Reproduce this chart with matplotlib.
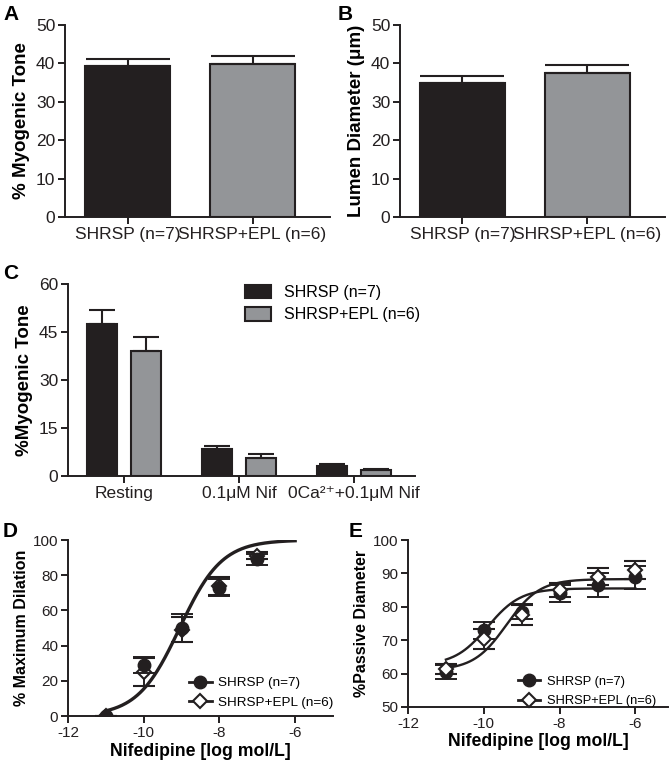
import numpy as np
import matplotlib
matplotlib.use("Agg")
import matplotlib.pyplot as plt
from matplotlib.patches import Patch
from matplotlib.lines import Line2D

plt.rcParams['font.family'] = ['Liberation Sans', 'DejaVu Sans']
plt.rcParams['axes.unicode_minus'] = False

# ---- data ----
groups = ['SHRSP (n=7)', 'SHRSP+EPL (n=6)']
tone_a = [39.3, 39.9]
tone_a_err = [1.8, 2.1]
diam_b = [34.9, 37.6]
diam_b_err = [1.7, 2.0]

c_conditions = ['Resting', '0.1\u03bcM Nif', '0Ca\u00b2\u207a+0.1\u03bcM Nif']
c_shrsp = [47.5, 8.4, 3.1]
c_shrsp_err = [4.4, 1.1, 0.6]
c_epl = [39.2, 5.7, 1.9]
c_epl_err = [4.3, 1.3, 0.3]

d_log = [-11, -10, -9, -8, -7]
d_shrsp = [0, 29, 50, 73, 89]
d_shrsp_err = [0, 4.5, 8, 5, 3]
d_epl = [0, 25, 49, 74, 91]
d_epl_err = [0, 8, 7, 5, 2]
# fitted Hill curve (bottom, top, logEC50, slope)
d_fit = [0, 100, -9.05, 0.78]

e_log = [-11, -10, -9, -8, -7, -6]
e_shrsp = [60.5, 73, 78.5, 84, 86.5, 88.8]
e_shrsp_err = [2, 2.5, 2.2, 2.5, 3.5, 3.5]
e_epl = [61.5, 70.5, 77.5, 85, 89, 91]
e_epl_err = [1.5, 3, 3, 2, 2.5, 2.7]
e_fit_shrsp = [62.5, 85.5, -9.9, 1.0]
e_fit_epl = [61, 88.3, -9.4, 1.0]

BLACK = '#231f20'
GRAY = '#939598'
W, H = 670, 761

fig = plt.figure(figsize=(W / 100, H / 100), dpi=100)


def px_axes(l, t, r, b):
    return fig.add_axes([l / W, 1 - b / H, (r - l) / W, (b - t) / H])


def style(ax, size):
    for s in ['top', 'right']:
        ax.spines[s].set_visible(False)
    for s in ['left', 'bottom']:
        ax.spines[s].set_linewidth(1.4)
        ax.spines[s].set_color(BLACK)
    ax.tick_params(direction='out', length=5, width=1.4, color=BLACK,
                   labelsize=size, labelcolor=BLACK, pad=2)


def hill(x, p):
    bottom, top, ec50, h = p
    return bottom + (top - bottom) / (1 + 10 ** ((ec50 - x) * h))


def two_bars(ax, vals, errs, ylabel):
    x = np.arange(len(vals))
    ax.bar(x, vals, width=0.68, color=[BLACK, GRAY], edgecolor=BLACK, linewidth=1.5)
    ax.errorbar(x, vals, yerr=[np.zeros(len(errs)), errs], fmt='none', ecolor=BLACK,
                elinewidth=1.5, capsize=30, capthick=1.5)
    ax.set_xlim(-0.5, 1.62)
    ax.set_ylim(0, 50)
    ax.set_yticks(range(0, 51, 10))
    ax.set_xticks(x)
    ax.set_xticklabels(groups, fontsize=10.6)
    style(ax, 12.5)
    ax.set_ylabel(ylabel, fontsize=13.5, fontweight='bold', labelpad=4)


# ---- A ----
axA = px_axes(65, 25, 330, 217)
two_bars(axA, tone_a, tone_a_err, '% Myogenic Tone')
fig.text(3 / W, 1 - 20 / H, 'A', fontsize=15, fontweight='bold')

# ---- B ----
axB = px_axes(400, 25, 665, 217)
two_bars(axB, diam_b, diam_b_err, 'Lumen Diameter (\u03bcm)')
fig.text(338 / W, 1 - 20 / H, 'B', fontsize=15, fontweight='bold')

# ---- C ----
axC = px_axes(68, 284, 415, 476)
xc = np.arange(len(c_conditions))
off, bw = 0.19, 0.265
axC.bar(xc - off, c_shrsp, width=bw, color=BLACK, edgecolor=BLACK, linewidth=1.5)
axC.bar(xc + off, c_epl, width=bw, color=GRAY, edgecolor=BLACK, linewidth=1.5)
axC.errorbar(xc - off, c_shrsp, yerr=[np.zeros(3), c_shrsp_err], fmt='none',
             ecolor=BLACK, elinewidth=1.5, capsize=9.5, capthick=1.5)
axC.errorbar(xc + off, c_epl, yerr=[np.zeros(3), c_epl_err], fmt='none',
             ecolor=BLACK, elinewidth=1.5, capsize=9.5, capthick=1.5)
axC.set_xlim(-0.487, 2.53)
axC.set_ylim(0, 60)
axC.set_yticks(range(0, 61, 15))
axC.set_xticks(xc)
axC.set_xticklabels(c_conditions, fontsize=11.8)
style(axC, 12.5)
axC.set_ylabel('%Myogenic Tone', fontsize=13.5, fontweight='bold', labelpad=4)
handles = [Patch(facecolor=BLACK, edgecolor=BLACK, linewidth=1.5, label=groups[0]),
           Patch(facecolor=GRAY, edgecolor=BLACK, linewidth=1.5, label=groups[1])]
axC.legend(handles=handles, loc='upper left', bbox_to_anchor=(0.47, 1.07),
           frameon=False, fontsize=11.5, handlelength=1.6, handleheight=0.9,
           handletextpad=0.8, labelspacing=0.45)
fig.text(3 / W, 1 - 279 / H, 'C', fontsize=15, fontweight='bold')


def dose_axes(ax, ylabel):
    ax.set_xticks([-12, -10, -8, -6])
    style(ax, 11)
    ax.set_xlabel('Nifedipine [log mol/L]', fontsize=12.7, fontweight='bold', labelpad=2)
    ax.set_ylabel(ylabel, fontsize=11.5, fontweight='bold', labelpad=3)
    leg = [Line2D([], [], color=BLACK, lw=2, marker='o', ms=9, label=groups[0]),
           Line2D([], [], color=BLACK, lw=2, marker='D', ms=7, mfc='white',
                  mew=1.5, label=groups[1])]
    return leg


# ---- D ----
axD = px_axes(68, 540, 333, 716)
xs = np.linspace(-11, -6, 200)
axD.plot(xs, hill(xs, d_fit), color=BLACK, lw=2.4, zorder=2)
axD.errorbar(d_log, d_shrsp, yerr=d_shrsp_err, fmt='o', color=BLACK, ms=9,
             elinewidth=1.4, capsize=8, capthick=1.4, zorder=4)
axD.errorbar(d_log, d_epl, yerr=d_epl_err, fmt='D', color=BLACK, mfc='white', ms=7,
             mew=1.5, elinewidth=1.4, capsize=8, capthick=1.4, zorder=3)
axD.set_xlim(-12, -5.0)
axD.set_ylim(0, 100)
axD.set_yticks(range(0, 101, 20))
leg = dose_axes(axD, '% Maximum Dilation')
axD.legend(handles=leg, loc='lower left', bbox_to_anchor=(0.41, -0.03), frameon=False,
           fontsize=9.7, handlelength=1.7, handletextpad=0.5, labelspacing=0.55)
fig.text(3 / W, 1 - 537 / H, 'D', fontsize=15, fontweight='bold')

# ---- E ----
axE = px_axes(408, 540, 668, 707)
axE.plot(xs, hill(xs, e_fit_shrsp), color=BLACK, lw=1.7, zorder=2)
axE.plot(xs, hill(xs, e_fit_epl), color=BLACK, lw=1.7, zorder=2)
axE.errorbar(e_log, e_shrsp, yerr=e_shrsp_err, fmt='o', color=BLACK, ms=9,
             elinewidth=1.4, capsize=8, capthick=1.4, zorder=3)
axE.errorbar(e_log, e_epl, yerr=e_epl_err, fmt='D', color=BLACK, mfc='white', ms=7,
             mew=1.5, elinewidth=1.4, capsize=8, capthick=1.4, zorder=4)
axE.set_xlim(-12, -5.14)
axE.set_ylim(50, 100)
axE.set_yticks(range(50, 101, 10))
leg = dose_axes(axE, '%Passive Diameter')
axE.legend(handles=leg, loc='lower left', bbox_to_anchor=(0.38, -0.07), frameon=False,
           fontsize=9.3, handlelength=1.7, handletextpad=0.5, labelspacing=0.55)
fig.text(349 / W, 1 - 537 / H, 'E', fontsize=15, fontweight='bold')

fig.savefig('out.png', dpi=100, facecolor='white')
